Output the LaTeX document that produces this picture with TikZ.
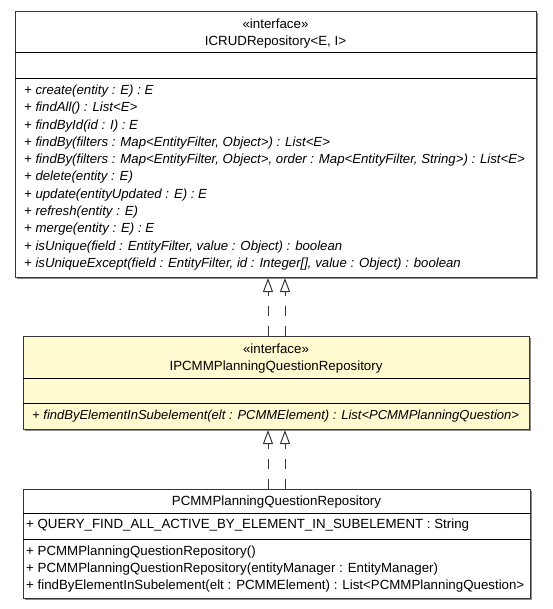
\documentclass[tikz,border=0pt]{standalone}
\usepackage{fontspec}
\setmainfont{Liberation Sans}
\usetikzlibrary{arrows.meta,shadows}
\definecolor{ifill}{RGB}{255,250,208}
\definecolor{bord}{RGB}{55,55,55}
\begin{document}
\begin{tikzpicture}[x=1pt,y=-1pt,
  umlbox/.style={draw=bord, line width=1pt, fill=white, rectangle, anchor=north west, inner sep=0pt,
    drop shadow={shadow xshift=1.2pt, shadow yshift=-1.2pt, fill=black!45, opacity=1}},
  sep/.style={draw=black, line width=1pt},
  itxt/.style={inner sep=0pt, anchor=base west, font=\fontsize{13.2}{15}\selectfont\itshape},
  utxt/.style={inner sep=0pt, anchor=base west, font=\fontsize{13.3}{15}\selectfont},
  htxt/.style={inner sep=0pt, anchor=base, font=\fontsize{13.3}{15}\selectfont},
  realize/.style={draw=bord, line width=1pt, dash pattern=on 10pt off 10pt,
    -{Triangle[open, length=14pt, width=10pt, fill=white]}}
]
\useasboundingbox (0,0) rectangle (552,609);

% ---- top interface ----
\node[umlbox, minimum width=521pt, minimum height=266pt] (top) at (15,11) {};
\draw[sep] ([yshift=-42pt]top.north west) -- ([yshift=-42pt]top.north east);
\draw[sep] ([yshift=-68pt]top.north west) -- ([yshift=-68pt]top.north east);
\node[htxt] (tst) at (275.5,28.5) {«interface»};
\node[htxt] (tnm) at (275.5,45.5) {ICRUDRepository<E, I>};
\foreach \m [count=\i from 0] in {
  {+ create(entity : E) : E},
  {+ findAll() : List<E>},
  {+ findById(id : I) : E},
  {+ findBy(filters : Map<EntityFilter, Object>) : List<E>},
  {+ findBy(filters : Map<EntityFilter, Object>, order : Map<EntityFilter, String>) : List<E>},
  {+ delete(entity : E)},
  {+ update(entityUpdated : E) : E},
  {+ refresh(entity : E)},
  {+ merge(entity : E) : E},
  {+ isUnique(field : EntityFilter, value : Object) : boolean},
  {+ isUniqueExcept(field : EntityFilter, id : Integer[], value : Object) : boolean}}
  \node[itxt] (tm\i) at (24,{94.5+17.3*\i}) {\m};

% ---- middle interface ----
\node[umlbox, fill=ifill, minimum width=506pt, minimum height=93pt] (mid) at (23,336) {};
\draw[sep] ([yshift=-42pt]mid.north west) -- ([yshift=-42pt]mid.north east);
\draw[sep] ([yshift=-67pt]mid.north west) -- ([yshift=-67pt]mid.north east);
\node[htxt] (mst) at (276,353.5) {«interface»};
\node[htxt] (mnm) at (276,370.5) {IPCMMPlanningQuestionRepository};
\node[itxt, font=\fontsize{13}{15}\selectfont\itshape] (mm0) at (32,419) {+ findByElementInSubelement(elt : PCMMElement) : List<PCMMPlanningQuestion>};

% ---- bottom class ----
\node[umlbox, minimum width=507pt, minimum height=109pt] (bot) at (23,489) {};
\draw[sep] ([yshift=-24pt]bot.north west) -- ([yshift=-24pt]bot.north east);
\draw[sep] ([yshift=-50pt]bot.north west) -- ([yshift=-50pt]bot.north east);
\node[htxt] (bnm) at (276.5,505.5) {PCMMPlanningQuestionRepository};
\node[utxt] (ba0) at (26,528.5) {+ QUERY\_FIND\_ALL\_ACTIVE\_BY\_ELEMENT\_IN\_SUBELEMENT : String};
\node[utxt] (bm0) at (26,555) {+ PCMMPlanningQuestionRepository()};
\node[utxt] (bm1) at (26,572) {+ PCMMPlanningQuestionRepository(entityManager : EntityManager)};
\node[utxt] (bm2) at (26,589) {+ findByElementInSubelement(elt : PCMMElement) : List<PCMMPlanningQuestion>};

% ---- realizations ----
\draw[realize] ([xshift=-8.5pt]mid.north) -- ([xshift=-8.5pt]mid.north |- top.south);
\draw[realize] ([xshift=8.5pt]mid.north) -- ([xshift=8.5pt]mid.north |- top.south);
\draw[realize] ([xshift=-9pt]bot.north) -- ([xshift=-9pt]bot.north |- mid.south);
\draw[realize] ([xshift=8pt]bot.north) -- ([xshift=8pt]bot.north |- mid.south);
\end{tikzpicture}
\end{document}
